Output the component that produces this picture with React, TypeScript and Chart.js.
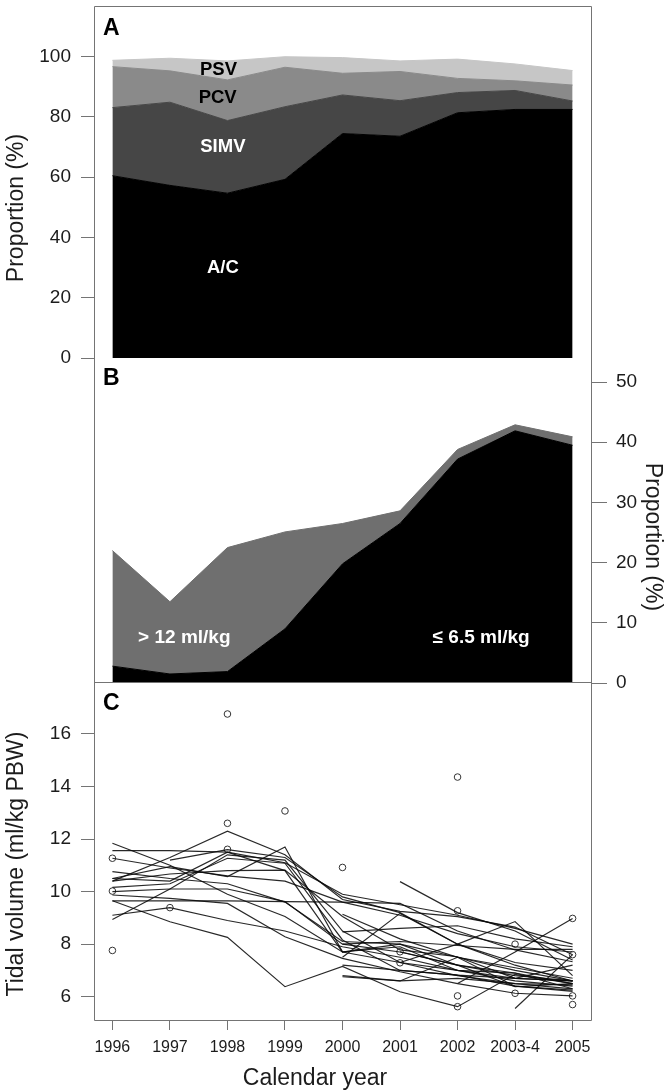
import React, { useEffect, useRef } from "react";
import { Chart, registerables } from "chart.js";

Chart.register(...registerables);

// ---------------- data ----------------
const yearLabels = ["1996", "1997", "1998", "1999", "2000", "2001", "2002", "2003-4", "2005"];

// Panel A: ventilation mode shares (%)
const acShare = [60.5, 57.3, 54.7, 59.3, 74.5, 73.6, 81.4, 82.5, 82.5];
const simvShare = [22.6, 27.6, 24.1, 24.1, 12.8, 11.8, 6.7, 6.3, 2.8];
const pcvShare = [13.6, 10.4, 13.5, 13.1, 7.2, 9.7, 4.7, 3.2, 5.3];
const psvShare = [2.1, 4.2, 6.3, 3.5, 5.2, 3.5, 6.4, 5.6, 4.8];

// Panel B: tidal volume classes (%)
const lowVtShare = [2.8, 1.5, 1.9, 9.0, 19.8, 26.5, 37.2, 41.9, 39.5];
const highVtShare = [19.2, 12.0, 20.6, 16.1, 6.7, 2.1, 1.6, 1.0, 1.4];

// tick values
const propTicksA = [0, 20, 40, 60, 80, 100];
const propTicksB = [0, 10, 20, 30, 40, 50];
const tidalTicks = [6, 8, 10, 12, 14, 16];

// Panel C: hospital trajectories (ml/kg PBW)
const tidalLines: (number | null)[][] = [
  [10.4, 11.3, 12.3, 11.4, 9.7, 9.25, 9.05, 8.65, 7.6],
  [11.84, 11.0, 9.9, 9.05, 7.7, 7.3, 6.8, 6.5, 6.3],
  [11.56, 11.56, 11.5, 11.1, 9.9, 9.5, 9.1, 8.6, 8.0],
  [11.27, 10.9, 10.6, 10.4, 9.6, 9.1, 8.4, 7.9, 7.7],
  [10.76, 10.5, 10.3, 9.6, 8.1, 8.0, 7.5, 7.1, 6.7],
  [10.5, 10.4, 11.5, 10.8, 7.7, 8.0, 7.2, 6.9, 6.5],
  [10.5, 10.95, 10.57, 11.7, 7.71, 7.9, 7.0, 6.6, 6.4],
  [10.4, 10.67, 10.8, 10.82, 9.05, 7.78, 7.52, 6.7, 6.6],
  [10.16, 10.3, 11.27, 11.08, 8.16, 7.0, 6.82, 6.4, 6.25],
  [10.0, 10.1, 10.1, 9.62, 8.0, 7.7, 7.2, 6.38, 6.5],
  [9.87, 9.74, 9.55, 8.28, 7.46, 6.95, 6.5, 6.13, 6.03],
  [9.65, 9.65, 9.65, 9.62, 9.6, 9.55, 8.5, 7.78, 7.33],
  [9.65, 8.85, 8.26, 6.38, 7.15, 6.19, 5.62, 6.85, 6.5],
  [9.1, 9.39, 8.9, 8.5, 7.9, 7.5, 7.0, 6.7, 6.6],
  [8.94, 10.1, 11.4, 11.2, 8.5, 7.3, 7.0, 6.9, 6.3],
  [null, 11.2, 11.6, 11.3, 9.8, 9.2, 8.0, 7.3, 7.0],
  [null, null, null, null, null, 10.38, 9.2, 8.5, 7.4],
  [null, null, null, null, 9.14, 8.2, 7.5, 7.0, 6.6],
  [null, null, null, null, 8.47, 8.6, 8.7, 8.2, 7.9],
  [null, null, null, null, 8.0, 8.1, 7.95, 7.8, 7.8],
  [null, null, null, null, 7.5, 9.17, 8.0, 7.2, 6.6],
  [null, null, null, null, 6.8, 6.6, 6.7, 6.5, 6.45],
  [null, null, null, null, null, 7.3, 8.0, 8.86, 6.8],
  [null, null, null, null, null, null, 6.5, 7.7, 8.98],
  [null, null, null, null, null, null, null, 5.55, 7.6],
  [null, null, null, null, null, 7.71, 7.2, 6.8, 6.6],
  [null, null, null, null, 6.76, 6.6, 7.5, 6.4, 6.2],
  [null, null, null, null, 7.2, 7.0, 6.82, 6.7, 7.2],
];

const outlierYearIdx = [0, 0, 0, 1, 2, 2, 2, 3, 4, 5, 5, 6, 6, 6, 6, 7, 7, 8, 8, 8, 8];
const outlierValue = [11.27, 10.02, 7.76, 9.39, 16.76, 12.6, 11.61, 13.07, 10.92, 7.71, 7.29, 14.36, 9.27, 6.03, 5.62, 8.0, 6.13, 8.98, 7.6, 6.03, 5.7];

// ---------------- style ----------------
const W = 671;
const H = 1091;
const FAM = "'Liberation Sans', Arial, Helvetica, sans-serif";
const FRAME = "#747474";
const INK = "#1c1c1c";
const X_MIN = -0.32;
const X_MAX = 8.32;
const C_AC = "#000000";
const C_SIMV = "#464646";
const C_PCV = "#8a8a8a";
const C_PSV = "#c6c6c6";
const C_HIGH = "#6f6f6f";

const pts = (arr: (number | null)[]) =>
  arr.map((v, i) => (v == null ? null : { x: i, y: v })).filter((p) => p !== null) as { x: number; y: number }[];

const area = (label: string, arr: number[], color: string, fill: any) => ({
  label,
  data: pts(arr),
  backgroundColor: color,
  borderColor: color,
  borderWidth: 1,
  fill,
  pointRadius: 0,
  tension: 0,
});

const zeroPad = (s: any) => {
  s.paddingTop = 0;
  s.paddingBottom = 0;
  s.paddingLeft = 0;
  s.paddingRight = 0;
};

type Txt = { t: string; x: number; y: number; font: string; color: string; align?: CanvasTextAlign; rot?: number };

const textPlugin = (id: string, make: (c: any) => Txt[]) => ({
  id,
  afterDraw(chart: any) {
    const ctx = chart.ctx as CanvasRenderingContext2D;
    for (const it of make(chart)) {
      ctx.save();
      ctx.font = it.font;
      ctx.fillStyle = it.color;
      ctx.textAlign = it.align ?? "center";
      ctx.textBaseline = "alphabetic";
      ctx.translate(it.x, it.y);
      if (it.rot) ctx.rotate(it.rot);
      ctx.fillText(it.t, 0, 0);
      ctx.restore();
    }
  },
});

const framePlugin = (id: string, seg: (a: any) => number[][]) => ({
  id,
  afterDraw(chart: any) {
    const ctx = chart.ctx as CanvasRenderingContext2D;
    ctx.save();
    ctx.strokeStyle = FRAME;
    ctx.lineWidth = 1;
    ctx.beginPath();
    for (const [x1, y1, x2, y2] of seg(chart.chartArea)) {
      ctx.moveTo(x1, y1);
      ctx.lineTo(x2, y2);
    }
    ctx.stroke();
    ctx.restore();
  },
});

const yTickOpts = (size: number, padding: number) => ({
  font: { family: FAM, size },
  color: INK,
  padding,
});

const tickGrid = (len: number) => ({
  drawOnChartArea: false,
  drawTicks: true,
  tickLength: len,
  color: FRAME,
  lineWidth: 1,
});

const baseOpts = (padding: any) => ({
  responsive: false,
  maintainAspectRatio: false,
  animation: false as const,
  devicePixelRatio: 1,
  layout: { padding },
  plugins: { legend: { display: false }, tooltip: { enabled: false } },
  events: [] as any[],
});

export default function App() {
  const refA = useRef<HTMLCanvasElement>(null);
  const refB = useRef<HTMLCanvasElement>(null);
  const refC = useRef<HTMLCanvasElement>(null);

  useEffect(() => {
    Chart.defaults.font.family = FAM;

    // ---------- Panel A ----------
    const chartA = new Chart(refA.current as HTMLCanvasElement, {
      type: "line",
      data: {
        datasets: [
          area("A/C", acShare, C_AC, "origin"),
          area("SIMV", simvShare, C_SIMV, "-1"),
          area("PCV", pcvShare, C_PCV, "-1"),
          area("PSV", psvShare, C_PSV, "-1"),
        ] as any,
      },
      options: {
        ...baseOpts({ top: 7, bottom: H - 358, left: 0, right: W - 591 }),
        scales: {
          x: { type: "linear", min: X_MIN, max: X_MAX, display: false },
          y: {
            stacked: true,
            min: 0,
            max: 116.5,
            afterBuildTicks: (s: any) => {
              s.ticks = propTicksA.map((v) => ({ value: v }));
            },
            afterFit: (s: any) => {
              s.width = 94;
              zeroPad(s);
            },
            ticks: yTickOpts(19, 10),
            grid: tickGrid(13),
            border: { display: false },
          },
        },
      } as any,
      plugins: [
        framePlugin("frameA", (a) => [
          [a.left + 0.5, a.top - 0.5, a.right + 0.5, a.top - 0.5],
          [a.left + 0.5, a.top - 0.5, a.left + 0.5, a.bottom],
          [a.right + 0.5, a.top - 0.5, a.right + 0.5, a.bottom],
        ]),
        textPlugin("textA", (c) => {
          const xs = c.scales.x;
          const ys = c.scales.y;
          const bold = `bold 18.5px ${FAM}`;
          return [
            { t: "A", x: 103, y: 35, font: `bold 23px ${FAM}`, color: "#000", align: "left" },
            { t: "PSV", x: xs.getPixelForValue(1.845), y: ys.getPixelForValue(93.9), font: bold, color: "#000" },
            { t: "PCV", x: xs.getPixelForValue(1.83), y: ys.getPixelForValue(84.5), font: bold, color: "#000" },
            { t: "SIMV", x: xs.getPixelForValue(1.92), y: ys.getPixelForValue(68.5), font: bold, color: "#fff" },
            { t: "A/C", x: xs.getPixelForValue(1.92), y: ys.getPixelForValue(28.2), font: bold, color: "#fff" },
            { t: "Proportion (%)", x: 23, y: 208, font: `23px ${FAM}`, color: INK, rot: -Math.PI / 2 },
          ];
        }),
      ],
    });

    // ---------- Panel B ----------
    const chartB = new Chart(refB.current as HTMLCanvasElement, {
      type: "line",
      data: {
        datasets: [
          area("<= 6.5 ml/kg", lowVtShare, C_AC, "origin"),
          area("> 12 ml/kg", highVtShare, C_HIGH, "-1"),
        ] as any,
      },
      options: {
        ...baseOpts({ top: 358, bottom: H - 683, left: 94, right: 0 }),
        scales: {
          x: { type: "linear", min: X_MIN, max: X_MAX, display: false },
          y: {
            position: "right",
            stacked: true,
            min: 0,
            max: 54.0,
            afterBuildTicks: (s: any) => {
              s.ticks = propTicksB.map((v) => ({ value: v }));
            },
            afterFit: (s: any) => {
              s.width = W - 591;
              zeroPad(s);
            },
            ticks: yTickOpts(19, 9),
            grid: tickGrid(16),
            border: { display: false },
          },
        },
      } as any,
      plugins: [
        framePlugin("frameB", (a) => [
          [a.left + 0.5, a.top, a.left + 0.5, a.bottom],
          [a.right + 0.5, a.top, a.right + 0.5, a.bottom],
          [a.left + 0.5, a.bottom - 0.5, a.right + 0.5, a.bottom - 0.5],
        ]),
        textPlugin("textB", (c) => {
          const xs = c.scales.x;
          const ys = c.scales.y;
          const bold = `bold 19px ${FAM}`;
          return [
            { t: "B", x: 103, y: 385, font: `bold 23px ${FAM}`, color: "#000", align: "left" },
            { t: "> 12 ml/kg", x: xs.getPixelForValue(1.25), y: ys.getPixelForValue(6.64), font: bold, color: "#fff" },
            { t: "≤ 6.5 ml/kg", x: xs.getPixelForValue(6.41), y: ys.getPixelForValue(6.64), font: bold, color: "#fff" },
            { t: "Proportion (%)", x: 646, y: 537, font: `23px ${FAM}`, color: INK, rot: Math.PI / 2 },
          ];
        }),
      ],
    });

    // ---------- Panel C ----------
    const lineSets = tidalLines.map((row, k) => ({
      label: `h${k + 1}`,
      data: pts(row),
      borderColor: "rgba(10,10,10,0.88)",
      borderWidth: 1.15,
      pointRadius: 0,
      fill: false,
      tension: 0,
    }));
    const outlierSet = {
      label: "outliers",
      data: outlierYearIdx.map((xi, k) => ({ x: xi, y: outlierValue[k] })),
      showLine: false,
      pointRadius: 3.3,
      pointStyle: "circle",
      pointBorderColor: "#333",
      pointBackgroundColor: "rgba(255,255,255,0)",
      pointBorderWidth: 1,
      fill: false,
    };

    const chartC = new Chart(refC.current as HTMLCanvasElement, {
      type: "line",
      data: { datasets: [...lineSets, outlierSet] as any },
      options: {
        ...baseOpts({ top: 683, bottom: 0, left: 0, right: W - 591 }),
        scales: {
          x: {
            type: "linear",
            min: X_MIN,
            max: X_MAX,
            afterBuildTicks: (s: any) => {
              s.ticks = yearLabels.map((_, i) => ({ value: i }));
            },
            afterFit: (s: any) => {
              s.height = H - 1020;
              zeroPad(s);
            },
            ticks: {
              font: { family: FAM, size: 16 },
              color: INK,
              padding: 8,
              autoSkip: false,
              maxRotation: 0,
              minRotation: 0,
              callback: (v: any) => yearLabels[Math.round(Number(v))] ?? "",
            },
            grid: tickGrid(10),
            border: { display: false },
          },
          y: {
            min: 5.113,
            max: 17.94,
            afterBuildTicks: (s: any) => {
              s.ticks = tidalTicks.map((v) => ({ value: v }));
            },
            afterFit: (s: any) => {
              s.width = 94;
              zeroPad(s);
            },
            ticks: yTickOpts(19, 10),
            grid: tickGrid(13),
            border: { display: false },
          },
        },
      } as any,
      plugins: [
        framePlugin("frameC", (a) => [
          [a.left + 0.5, a.top, a.left + 0.5, a.bottom + 0.5],
          [a.right + 0.5, a.top, a.right + 0.5, a.bottom + 0.5],
          [a.left + 0.5, a.bottom + 0.5, a.right + 0.5, a.bottom + 0.5],
        ]),
        textPlugin("textC", () => [
          { t: "C", x: 103, y: 710, font: `bold 23px ${FAM}`, color: "#000", align: "left" },
          { t: "Tidal volume (ml/kg PBW)", x: 23, y: 864, font: `23px ${FAM}`, color: INK, rot: -Math.PI / 2 },
          { t: "Calendar year", x: 315, y: 1085, font: `23px ${FAM}`, color: INK },
        ]),
      ],
    });

    return () => {
      chartA.destroy();
      chartB.destroy();
      chartC.destroy();
    };
  }, []);

  const cs: React.CSSProperties = { position: "absolute", left: 0, top: 0, width: W, height: H };
  return (
    <div style={{ position: "absolute", left: 0, top: 0, width: W, height: H, background: "#fff", overflow: "hidden" }}>
      <canvas ref={refA} width={W} height={H} style={cs} />
      <canvas ref={refB} width={W} height={H} style={cs} />
      <canvas ref={refC} width={W} height={H} style={cs} />
    </div>
  );
}
